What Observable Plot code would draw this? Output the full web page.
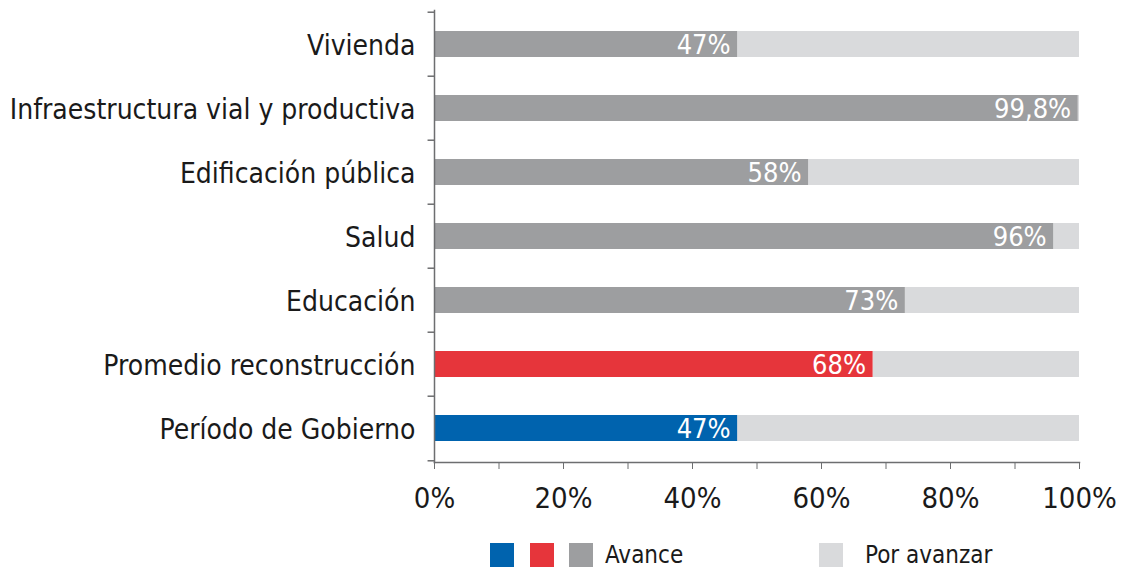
<!DOCTYPE html>
<html>
<head>
<meta charset="utf-8">
<script src="https://cdn.jsdelivr.net/npm/d3@7"></script>
<script src="https://cdn.jsdelivr.net/npm/@observablehq/plot@0.6"></script>
<style>
  body { margin: 0; background: #fff; font-family: "DejaVu Sans Condensed", sans-serif; }
  #legend { position: relative; height: 41px; font-size: 24px; color: #1a1a1a; }
  .sw { position: absolute; top: 13px; width: 24px; height: 24px; }
  .lt { position: absolute; top: 11px; }
</style>
</head>
<body>
<div id="chart"></div>
<div id="legend">
  <div class="sw" style="left:490px;background:#0063ae"></div>
  <div class="sw" style="left:530px;background:#e6353b"></div>
  <div class="sw" style="left:569px;background:#9d9ea0"></div>
  <div class="lt" style="left:605px">Avance</div>
  <div class="sw" style="left:819px;background:#d9dadc"></div>
  <div class="lt" style="left:865px">Por avanzar</div>
</div>
<script>
const categories = ["Vivienda", "Infraestructura vial y productiva", "Edificación pública", "Salud", "Educación", "Promedio reconstrucción", "Período de Gobierno"];
const avance = [47, 99.8, 58, 96, 73, 68, 47];
const labels = ["47%", "99,8%", "58%", "96%", "73%", "68%", "47%"];
const barColors = ["#9d9ea0", "#9d9ea0", "#9d9ea0", "#9d9ea0", "#9d9ea0", "#e6353b", "#0063ae"];
const restColor = "#d9dadc";
const xTicksMajor = [0, 20, 40, 60, 80, 100];
const xTicksMinor = [0, 10, 20, 30, 40, 50, 60, 70, 80, 90, 100];

const data = categories.map((c, i) => ({cat: c, v: avance[i], label: labels[i], color: barColors[i]}));

const W = 1124, H = 530, mt = 10, mb = 68;
const step = (H - mt - mb) / categories.length;

const chart = Plot.plot({
  width: W,
  height: H,
  marginLeft: 434,
  marginRight: 45,
  marginTop: mt,
  marginBottom: mb,
  style: {fontFamily: "'DejaVu Sans Condensed', sans-serif", color: "#1a1a1a"},
  x: {domain: [0, 100]},
  y: {domain: categories, paddingInner: 0.6, paddingOuter: 0.3, align: 0.5},
  marks: [
    Plot.barX(data, {y: "cat", x1: d => d.v, x2: 100, fill: restColor}),
    Plot.barX(data, {y: "cat", x1: 0, x2: "v", fill: "color"}),
    Plot.text(data, {y: "cat", x: "v", text: "label", fill: "white", textAnchor: "end", dx: -7, dy: 1, fontSize: 27}),
    Plot.frame({anchor: "left", stroke: "#6d6e70", strokeWidth: 1.5}),
    Plot.frame({anchor: "bottom", stroke: "#6d6e70", strokeWidth: 1.5}),
    Plot.ruleY(categories, {y: d => d, x1: -1, x2: 0, dy: -step / 2, stroke: "#6d6e70", strokeWidth: 1.5}),
    Plot.ruleY(categories.slice(-1), {y: d => d, x1: -1, x2: 0, dy: step / 2, stroke: "#6d6e70", strokeWidth: 1.5}),
    Plot.axisY({tickSize: 0, tickPadding: 19, fontSize: 28, label: null, fill: "#1a1a1a", dy: 2}),
    Plot.axisX({ticks: xTicksMinor, tickSize: 7, tickFormat: () => "", stroke: "#6d6e70", label: null}),
    Plot.axisX({ticks: xTicksMajor, tickSize: 0, tickPadding: 25, fontSize: 29, tickFormat: d => d + "%", label: null, fill: "#1a1a1a"})
  ]
});
document.getElementById("chart").appendChild(chart);
</script>
</body>
</html>
